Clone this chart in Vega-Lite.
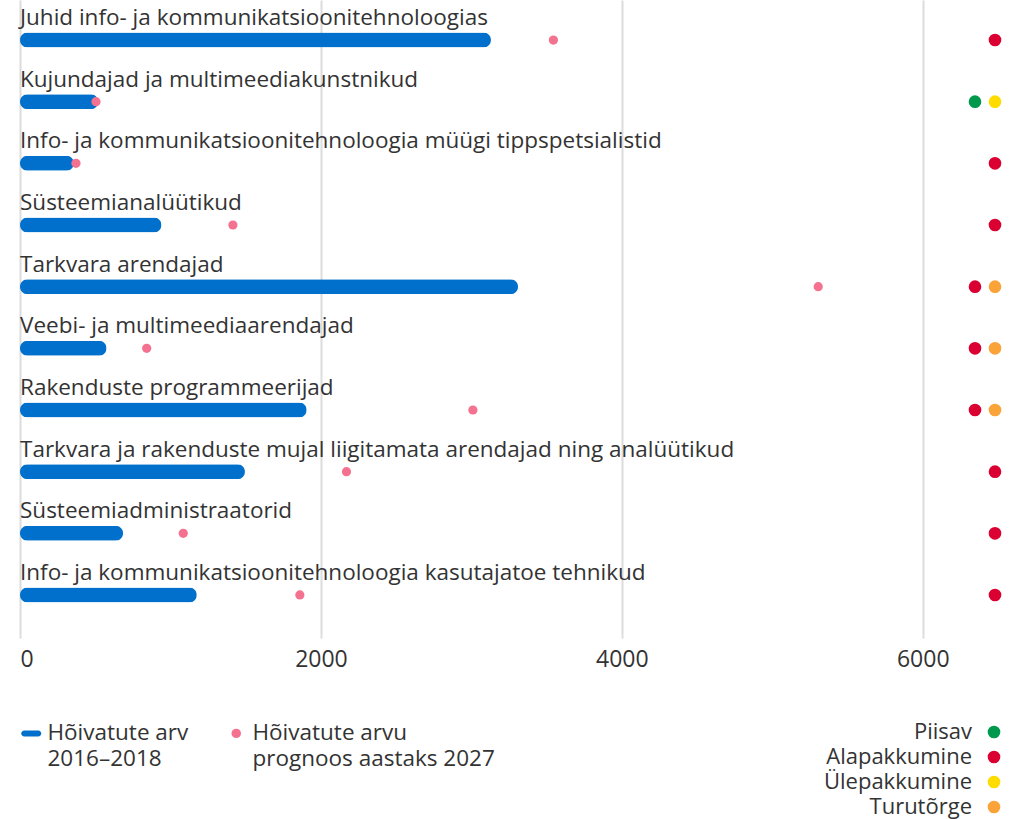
{
  "$schema": "https://vega.github.io/schema/vega-lite/v6.json",
  "width": 978,
  "height": 635,
  "autosize": {"type": "none"},
  "padding": {"left": 20, "top": 0, "right": 13, "bottom": 184},
  "background": "white",
  "config": {"view": {"stroke": null}, "font": "Open Sans"},
  "datasets": {
    "main": [
      {"ametiala": "Juhid info- ja kommunikatsioonitehnoloogias", "hoivatud": 3130, "prognoos": 3545},
      {"ametiala": "Kujundajad ja multimeediakunstnikud", "hoivatud": 520, "prognoos": 505},
      {"ametiala": "Info- ja kommunikatsioonitehnoloogia müügi tippspetsialistid", "hoivatud": 358, "prognoos": 372},
      {"ametiala": "Süsteemianalüütikud", "hoivatud": 940, "prognoos": 1415},
      {"ametiala": "Tarkvara arendajad", "hoivatud": 3310, "prognoos": 5305},
      {"ametiala": "Veebi- ja multimeediaarendajad", "hoivatud": 575, "prognoos": 842},
      {"ametiala": "Rakenduste programmeerijad", "hoivatud": 1905, "prognoos": 3010},
      {"ametiala": "Tarkvara ja rakenduste mujal liigitamata arendajad ning analüütikud", "hoivatud": 1495, "prognoos": 2170},
      {"ametiala": "Süsteemiadministraatorid", "hoivatud": 685, "prognoos": 1085},
      {"ametiala": "Info- ja kommunikatsioonitehnoloogia kasutajatoe tehnikud", "hoivatud": 1175, "prognoos": 1860}
    ],
    "status": [
      {"ametiala": "Juhid info- ja kommunikatsioonitehnoloogias", "staatus": "Alapakkumine", "koht": "1"},
      {"ametiala": "Kujundajad ja multimeediakunstnikud", "staatus": "Piisav", "koht": "2"},
      {"ametiala": "Kujundajad ja multimeediakunstnikud", "staatus": "Ülepakkumine", "koht": "1"},
      {"ametiala": "Info- ja kommunikatsioonitehnoloogia müügi tippspetsialistid", "staatus": "Alapakkumine", "koht": "1"},
      {"ametiala": "Süsteemianalüütikud", "staatus": "Alapakkumine", "koht": "1"},
      {"ametiala": "Tarkvara arendajad", "staatus": "Alapakkumine", "koht": "2"},
      {"ametiala": "Tarkvara arendajad", "staatus": "Turutõrge", "koht": "1"},
      {"ametiala": "Veebi- ja multimeediaarendajad", "staatus": "Alapakkumine", "koht": "2"},
      {"ametiala": "Veebi- ja multimeediaarendajad", "staatus": "Turutõrge", "koht": "1"},
      {"ametiala": "Rakenduste programmeerijad", "staatus": "Alapakkumine", "koht": "2"},
      {"ametiala": "Rakenduste programmeerijad", "staatus": "Turutõrge", "koht": "1"},
      {"ametiala": "Tarkvara ja rakenduste mujal liigitamata arendajad ning analüütikud", "staatus": "Alapakkumine", "koht": "1"},
      {"ametiala": "Süsteemiadministraatorid", "staatus": "Alapakkumine", "koht": "1"},
      {"ametiala": "Info- ja kommunikatsioonitehnoloogia kasutajatoe tehnikud", "staatus": "Alapakkumine", "koht": "1"}
    ]
  },
  "resolve": {"scale": {"x": "independent"}},
  "layer": [
    {
      "data": {"name": "main"},
      "layer": [
        {
          "mark": {"type": "bar", "height": 15, "cornerRadius": 7.5},
          "encoding": {
            "y": {"field": "ametiala", "type": "nominal", "sort": null, "axis": null, "scale": {"paddingInner": 0, "paddingOuter": 0.149}},
            "x": {"field": "hoivatud", "type": "quantitative", "scale": {"domain": [0, 6500], "nice": false},
              "axis": {"values": [0, 2000, 4000, 6000], "format": "d", "grid": true, "gridColor": "#dcdcdc", "gridWidth": 2, "domain": false, "ticks": true, "tickColor": "#dcdcdc", "tickWidth": 2, "tickSize": 3, "labelFontSize": 23, "labelColor": "#333333", "labelPadding": 10, "title": null, "labelFlush": true}},
            "color": {"datum": "Hõivatute arv|2016–2018", "type": "nominal",
              "scale": {"domain": ["Hõivatute arv|2016–2018", "Hõivatute arvu|prognoos aastaks 2027"], "range": ["#0070CC", "#F4728F"]},
              "legend": {"orient": "none", "legendX": 0, "legendY": 722, "direction": "horizontal", "columns": 2, "title": null, "padding": 0,
                "labelFontSize": 22.5, "labelColor": "#333333", "labelLimit": 500, "labelExpr": "split(datum.label, '|')", "symbolSize": 400, "labelOffset": 5, "columnPadding": 36, "labelBaseline": "alphabetic",
                "encode": {
                  "symbols": {"update": {
                    "shape": {"signal": "datum.value == 'Hõivatute arv|2016–2018' ? 'M-0.7,-0.3H0.7A0.3,0.3,0,0,1,0.7,0.3H-0.7A0.3,0.3,0,0,1,-0.7,-0.3Z' : 'circle'"},
                    "size": {"signal": "datum.value == 'Hõivatute arv|2016–2018' ? 400 : 90"},
                    "opacity": {"value": 1}}},
                  "labels": {"update": {"lineHeight": {"value": 26}, "dy": {"value": 7}}}
                }}}
          }
        },
        {
          "mark": {"type": "point", "filled": true, "size": 85, "opacity": 1},
          "encoding": {
            "y": {"field": "ametiala", "type": "nominal", "sort": null, "axis": null},
            "x": {"field": "prognoos", "type": "quantitative"},
            "color": {"datum": "Hõivatute arvu|prognoos aastaks 2027", "type": "nominal"}
          }
        },
        {
          "mark": {"type": "text", "align": "left", "baseline": "alphabetic", "dy": -15, "fontSize": 22.5, "color": "#333333"},
          "encoding": {
            "y": {"field": "ametiala", "type": "nominal", "sort": null, "axis": null},
            "x": {"datum": 0, "type": "quantitative"},
            "text": {"field": "ametiala"}
          }
        }
      ]
    },
    {
      "data": {"name": "status"},
      "mark": {"type": "point", "filled": true, "size": 160, "opacity": 1},
      "encoding": {
        "y": {"field": "ametiala", "type": "nominal", "sort": null, "axis": null},
        "x": {"field": "koht", "type": "ordinal", "axis": null, "scale": {"type": "point", "domain": ["2", "1"], "range": [955, 975], "padding": 0}},
        "fill": {"field": "staatus", "type": "nominal",
          "scale": {"domain": ["Piisav", "Alapakkumine", "Ülepakkumine", "Turutõrge"], "range": ["#00984A", "#DA0032", "#FFDC00", "#F9A338"]},
          "legend": {"orient": "none", "legendX": 963, "legendY": 721, "title": null, "padding": 0, "labelAlign": "right", "labelOffset": -33, "symbolSize": 160, "labelFontSize": 22, "labelColor": "#333333", "rowPadding": 3, "symbolOpacity": 1, "symbolStrokeWidth": 0}}
      }
    }
  ]
}
